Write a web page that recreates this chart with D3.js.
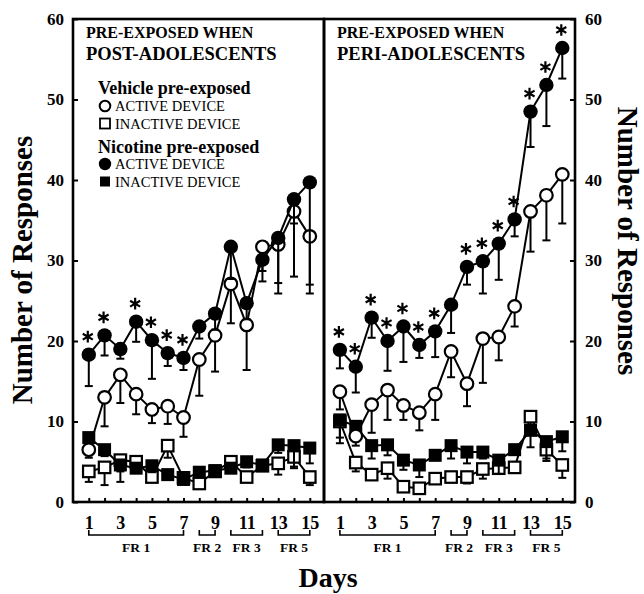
<!doctype html>
<html>
<head>
<meta charset="UTF-8">
<title>responses by day</title>
<script src="https://d3js.org/d3.v7.min.js"></script>
<style>
  body{margin:0;background:#fff;}
  text{font-family:"Liberation Serif","Times New Roman",serif;fill:#000;}
</style>
</head>
<body>
<svg id="chart" width="644" height="594"></svg>
<script>
var days = [1,2,3,4,5,6,7,8,9,10,11,12,13,14,15];
var yTicks = [0,10,20,30,40,50,60];
var schedules = ["FR 1","FR 2","FR 3","FR 5"];
var scheduleFrom = [1,8,10,13];
var scheduleTo = [7,9,12,15];

// pre-exposed when post-adolescents (left)
var postNicActive = [18.3,20.7,19.0,22.4,20.1,18.5,17.9,21.8,23.4,31.7,24.7,30.1,32.8,37.6,39.7];
var postNicActiveSem = [3.9,2.5,1.2,2.5,4.8,1.6,1.5,1.5,2.0,4.0,2.0,2.7,5.6,3.0,13.8];
var postVehActive = [6.5,13.0,15.8,13.4,11.5,11.9,10.5,17.7,20.7,27.1,22.0,31.7,32.0,36.1,33.0];
var postVehActiveSem = [1.0,3.6,3.5,2.5,1.7,2.2,2.4,4.5,4.5,4.9,5.6,3.0,6.1,8.1,6.0];
var postNicInactive = [8.0,6.5,4.6,4.2,4.5,3.4,2.8,3.7,3.9,4.2,5.0,4.6,7.1,7.0,6.7];
var postNicInactiveSem = [1.0,0.8,0.8,0.6,0.8,0.5,0.5,0.6,0.6,0.6,0.7,0.6,1.0,2.8,1.9];
var postVehInactive = [3.8,4.3,5.2,5.0,3.1,7.0,3.0,2.3,3.8,5.0,3.1,4.5,4.8,5.6,3.1];
var postVehInactiveSem = [1.3,2.2,2.7,1.0,0.6,1.5,0.5,0.5,0.6,0.8,0.6,0.6,1.4,1.2,1.0];
var postStars = [1,2,4,5,6,7];

// pre-exposed when peri-adolescents (right)
var periNicActive = [18.9,16.8,22.9,20.0,21.8,19.5,21.2,24.5,29.2,29.9,32.1,35.1,48.5,51.8,56.4];
var periNicActiveSem = [2.3,3.2,2.5,3.7,4.4,1.6,3.2,3.5,2.2,4.0,4.5,2.1,4.4,5.1,3.8];
var periVehActive = [13.7,8.2,12.1,13.9,12.0,11.1,13.4,18.7,14.7,20.3,20.5,24.3,36.1,38.1,40.7];
var periVehActiveSem = [2.2,1.2,3.5,3.7,1.8,2.2,3.2,3.2,2.8,5.5,2.9,2.5,5.0,5.6,6.1];
var periNicInactive = [10.2,9.4,7.0,7.1,5.2,4.6,5.8,7.0,6.2,6.2,5.2,6.5,8.9,7.5,8.1];
var periNicInactiveSem = [2.9,1.0,1.6,1.3,1.2,1.5,0.6,1.6,1.4,0.8,1.7,0.6,2.1,2.1,1.8];
var periVehInactive = [10.0,4.9,3.4,4.2,1.9,1.7,2.9,3.1,3.1,4.1,4.2,4.3,10.6,6.5,4.6];
var periVehInactiveSem = [2.0,1.1,0.5,1.3,0.4,0.4,0.4,0.4,0.8,1.2,0.6,0.5,1.5,1.4,1.6];
var periStars = [1,2,3,4,5,6,7,9,10,11,12,13,14,15];

var svg = d3.select("#chart");
var y = d3.scaleLinear().domain([0,60]).range([502,19]);
var serif = '"Liberation Serif","Times New Roman",serif';
var star = d3.symbol().type(d3.symbolAsterisk).size(95);

function drawSeries(g, x, vals, sem, shape, filled){
    var pts = days.map(function(d,i){ return {d:d, v:vals[i], e:sem[i]}; });
    g.append("path").datum(pts)
      .attr("fill","none").attr("stroke","#000").attr("stroke-width",2)
      .attr("d", d3.line().x(function(p){return x(p.d);}).y(function(p){return y(p.v);}));
    var bars = g.append("g").attr("stroke","#000").attr("stroke-width",2);
    pts.forEach(function(p){
        bars.append("line").attr("x1",x(p.d)).attr("x2",x(p.d))
          .attr("y1",y(p.v)).attr("y2",y(p.v-p.e));
        bars.append("line").attr("x1",x(p.d)-4).attr("x2",x(p.d)+4)
          .attr("y1",y(p.v-p.e)).attr("y2",y(p.v-p.e));
    });
    var m = g.append("g");
    if(shape==="circle"){
        m.selectAll("circle").data(pts).enter().append("circle")
          .attr("cx",function(p){return x(p.d);})
          .attr("cy",function(p){return y(p.v);})
          .attr("r", filled ? 7.2 : 6.3)
          .attr("fill", filled ? "#000" : "#fff")
          .attr("stroke","#000").attr("stroke-width", filled ? 0 : 2.2);
    } else {
        var s = filled ? 13 : 11.5;
        m.selectAll("rect").data(pts).enter().append("rect")
          .attr("x",function(p){return x(p.d)-s/2;})
          .attr("y",function(p){return y(p.v)-s/2;})
          .attr("width",s).attr("height",s)
          .attr("fill", filled ? "#000" : "#fff")
          .attr("stroke","#000").attr("stroke-width", filled ? 0 : 2.2);
    }
}

function panel(x0, x1, xMax, line2, data, stars, side){
    var x = d3.scaleLinear().domain([0,xMax]).range([x0,x1]);
    var g = svg.append("g");

    drawSeries(g, x, data.vi, data.vie, "square", false);
    drawSeries(g, x, data.ni, data.nie, "square", true);
    drawSeries(g, x, data.va, data.vae, "circle", false);
    drawSeries(g, x, data.na, data.nae, "circle", true);

    // significance marks above nicotine active points
    g.selectAll("path.star").data(stars).enter().append("path")
      .attr("class","star")
      .attr("transform",function(d){ return "translate("+(x(d)-1)+","+(y(data.na[d-1])-18)+")"; })
      .attr("d", star)
      .attr("fill","none").attr("stroke","#000").attr("stroke-width",2.2);

    // frame
    g.append("rect").attr("x",x0).attr("y",y(60)).attr("width",x1-x0).attr("height",y(0)-y(60))
      .attr("fill","none").attr("stroke","#000").attr("stroke-width",2.6);

    // bottom axis, inward ticks
    var xa = g.append("g").attr("transform","translate(0,"+y(0)+")")
      .call(d3.axisBottom(x).tickValues(days).tickSizeInner(-4).tickSizeOuter(0).tickPadding(14)
        .tickFormat(function(d){ return d%2===1 ? d : ""; }));
    xa.select(".domain").remove();
    xa.selectAll("line").attr("stroke-width",2);
    xa.selectAll("text").attr("font-family",serif).attr("font-size",18).attr("font-weight","bold");

    // y axis on the outer side
    var ya;
    if(side==="left"){
        ya = g.append("g").attr("transform","translate("+x0+",0)")
          .call(d3.axisLeft(y).tickValues(yTicks).tickSizeInner(-5).tickSizeOuter(0).tickPadding(9));
    } else {
        ya = g.append("g").attr("transform","translate("+x1+",0)")
          .call(d3.axisRight(y).tickValues(yTicks).tickSizeInner(-5).tickSizeOuter(0).tickPadding(10));
    }
    ya.select(".domain").remove();
    ya.selectAll("line").attr("stroke-width",2);
    ya.selectAll("text").attr("font-family",serif).attr("font-size",17).attr("font-weight","bold");

    // schedule brackets
    schedules.forEach(function(s,i){
        var a = x(scheduleFrom[i]), b = x(scheduleTo[i]);
        g.append("path").attr("d","M"+a+",530V535H"+b+"V530")
          .attr("fill","none").attr("stroke","#000").attr("stroke-width",1.6);
        g.append("text").attr("x",(a+b)/2).attr("y",551.5).attr("text-anchor","middle")
          .attr("font-size",13.5).attr("font-weight","bold").text(s);
    });

    // panel heading
    g.append("text").attr("x",x0+13).attr("y",38).attr("font-size",16).attr("font-weight","bold")
      .text("PRE-EXPOSED WHEN");
    g.append("text").attr("x",x0+13).attr("y",60).attr("font-size",18.5).attr("font-weight","bold")
      .text(line2);
    return g;
}

panel(73, 324, 15.9, "POST-ADOLESCENTS", {
    na:postNicActive, nae:postNicActiveSem, va:postVehActive, vae:postVehActiveSem,
    ni:postNicInactive, nie:postNicInactiveSem, vi:postVehInactive, vie:postVehInactiveSem
}, postStars, "left");

panel(324, 575, 15.8, "PERI-ADOLESCENTS", {
    na:periNicActive, nae:periNicActiveSem, va:periVehActive, vae:periVehActiveSem,
    ni:periNicInactive, nie:periNicInactiveSem, vi:periVehInactive, vie:periVehInactiveSem
}, periStars, "right");

// legend
var lg = svg.append("g");
var legendRows = [
    {head:"Vehicle pre-exposed", y:94},
    {label:"ACTIVE DEVICE", y:111, shape:"circle", filled:false},
    {label:"INACTIVE DEVICE", y:129, shape:"square", filled:false},
    {head:"Nicotine pre-exposed", y:152.5},
    {label:"ACTIVE DEVICE", y:169, shape:"circle", filled:true},
    {label:"INACTIVE DEVICE", y:187, shape:"square", filled:true}
];
legendRows.forEach(function(r){
    if(r.head){
        lg.append("text").attr("x",98).attr("y",r.y).attr("font-size",18).attr("font-weight","bold").text(r.head);
        return;
    }
    if(r.shape==="circle"){
        lg.append("circle").attr("cx",105).attr("cy",r.y-5).attr("r", r.filled ? 6.2 : 5.3)
          .attr("fill", r.filled ? "#000" : "#fff").attr("stroke","#000").attr("stroke-width", r.filled ? 0 : 2);
    } else {
        lg.append("rect").attr("x",100).attr("y",r.y-10.5).attr("width",10).attr("height",10)
          .attr("fill", r.filled ? "#000" : "#fff").attr("stroke","#000").attr("stroke-width", r.filled ? 0 : 1.8);
    }
    lg.append("text").attr("x",115).attr("y",r.y).attr("font-size",14.5).text(r.label);
});

// axis titles
svg.append("text").attr("transform","translate(32,270) rotate(-90)").attr("text-anchor","middle")
  .attr("font-size",29).attr("font-weight","bold").text("Number of Responses");
svg.append("text").attr("transform","translate(618,241) rotate(90)").attr("text-anchor","middle")
  .attr("font-size",29).attr("font-weight","bold").text("Number of Responses");
svg.append("text").attr("x",328).attr("y",587).attr("text-anchor","middle")
  .attr("font-size",28).attr("font-weight","bold").text("Days");
</script>
</body>
</html>
